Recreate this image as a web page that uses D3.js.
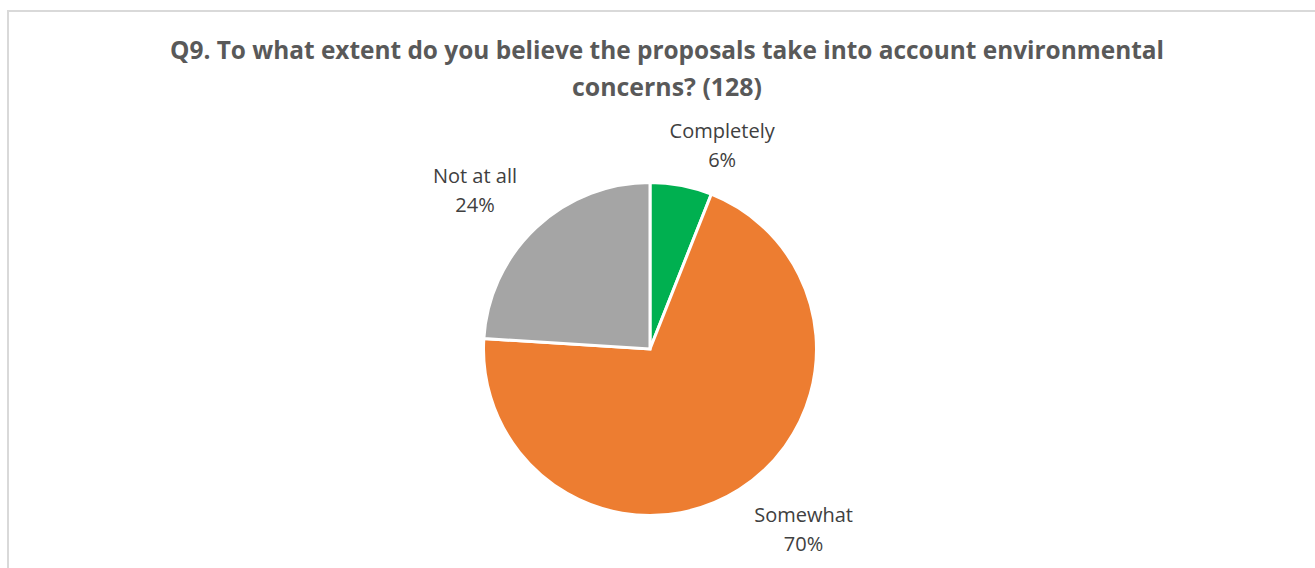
<!DOCTYPE html>
<html>
<head>
<meta charset="utf-8">
<script src="https://cdn.jsdelivr.net/npm/d3@7"></script>
<style>
  html, body { margin: 0; padding: 0; background: #fff; }
  svg { display: block; }
</style>
</head>
<body>
<svg id="chart" width="1315" height="568"></svg>
<script>
// ---- data ----
const categories = ["Completely", "Somewhat", "Not at all"];
const percentValues = [6, 70, 24];
const sliceColors = ["#00B050", "#ED7D31", "#A5A5A5"];
const titleLines = [
  "Q9. To what extent do you believe the proposals take into account environmental",
  "concerns? (128)"
];

// ---- layout ----
const W = 1315, H = 568;
const cx = 650, cy = 349, R = 166.5;
const labelRadius = 225;
// nudges that emulate Excel's "best fit" label placement
const labelNudge = [[30, 17], [33, -10], [-21, 5]];

const svg = d3.select("#chart");

// frame
svg.append("rect")
  .attr("x", 8).attr("y", 11)
  .attr("width", W + 20).attr("height", H + 20)
  .attr("fill", "#fff")
  .attr("stroke", "#D9D9D9").attr("stroke-width", 2);

// title
const titleBaselines = [59, 96];
const titleWidths = [994, 190];
const tg = svg.append("g");
titleLines.forEach((t, i) => {
  tg.append("text")
    .attr("x", 667).attr("y", titleBaselines[i])
    .attr("text-anchor", "middle")
    .attr("font-family", "'Open Sans', sans-serif")
    .attr("font-weight", 700)
    .attr("font-size", 25)
    .attr("fill", "#595959")
    .attr("textLength", titleWidths[i])
    .attr("lengthAdjust", "spacingAndGlyphs")
    .text(t);
});

// pie
const data = categories.map((c, i) => ({ name: c, value: percentValues[i], color: sliceColors[i] }));
const pie = d3.pie().sort(null).value(d => d.value);
const arcs = pie(data);
const arc = d3.arc().innerRadius(0).outerRadius(R);
const labelArc = d3.arc().innerRadius(labelRadius).outerRadius(labelRadius);

const g = svg.append("g").attr("transform", `translate(${cx},${cy})`);
g.selectAll("path.slice")
  .data(arcs)
  .join("path")
  .attr("class", "slice")
  .attr("d", arc)
  .attr("fill", d => d.data.color)
  .attr("stroke", "#fff")
  .attr("stroke-width", 3)
  .attr("stroke-linejoin", "miter");

// labels
const lg = g.selectAll("g.label")
  .data(arcs)
  .join("g")
  .attr("class", "label")
  .attr("transform", (d, i) => {
    const [x, y] = labelArc.centroid(d);
    return `translate(${x + labelNudge[i][0]},${y + labelNudge[i][1]})`;
  });
lg.append("text")
  .attr("text-anchor", "middle")
  .attr("font-family", "'Open Sans', sans-serif")
  .attr("font-size", 20)
  .attr("fill", "#404040")
  .attr("y", -7)
  .text(d => d.data.name);
lg.append("text")
  .attr("text-anchor", "middle")
  .attr("font-family", "'Open Sans', sans-serif")
  .attr("font-size", 20)
  .attr("fill", "#404040")
  .attr("y", 22)
  .text(d => d.data.value + "%");
</script>
</body>
</html>
